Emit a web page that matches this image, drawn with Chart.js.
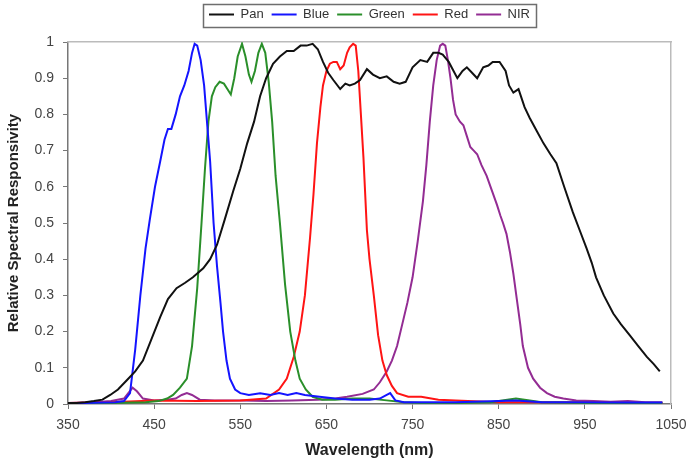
<!DOCTYPE html>
<html>
<head>
<meta charset="utf-8">
<script src="https://cdn.jsdelivr.net/npm/chart.js@4.4.1/dist/chart.umd.min.js"></script>
<style>
html,body{margin:0;padding:0;background:#fff;}
#wrap{width:689px;height:460px;}
</style>
</head>
<body>
<div id="wrap"><canvas id="c" width="689" height="460"></canvas></div>
<script>
// ---- Data ----
const seriesNames = ["Pan", "Blue", "Green", "Red", "NIR"];
const xTickValues = [350, 450, 550, 650, 750, 850, 950, 1050];
const yTickValues = [0, 0.1, 0.2, 0.3, 0.4, 0.5, 0.6, 0.7, 0.8, 0.9, 1];

const panWl = [350,360,370,380,390,399,408,418,428,437,447,457,466,476,486,495,507,515,523,532,542,550,558,566,573,580,588,596,604,612,620,627,634,640,646,652,658,666,672,677,683,689,697,704,712,720,728,735,742,750,759,767,774,780,785,792,802,808,813,819,825,832,838,843,851,858,862,867,873,880,886,894,902,910,917,926,936,944,952,958,963,972,983,992,1002,1012,1022,1030,1037];
const panVal = [0.003,0.003,0.005,0.008,0.012,0.025,0.04,0.065,0.09,0.12,0.18,0.24,0.29,0.32,0.335,0.35,0.375,0.40,0.44,0.51,0.59,0.65,0.72,0.78,0.85,0.90,0.94,0.96,0.975,0.975,0.99,0.99,0.995,0.98,0.945,0.915,0.895,0.87,0.885,0.88,0.885,0.895,0.925,0.91,0.90,0.905,0.89,0.885,0.89,0.93,0.95,0.945,0.97,0.97,0.965,0.945,0.90,0.92,0.93,0.915,0.90,0.93,0.935,0.945,0.945,0.92,0.88,0.86,0.87,0.82,0.79,0.755,0.72,0.69,0.665,0.60,0.53,0.48,0.43,0.39,0.35,0.30,0.25,0.22,0.19,0.16,0.13,0.11,0.09];

const blueWl = [350,370,390,405,415,422,428,434,440,445,451,457,462,466,470,475,480,485,490,494,497,500,504,508,512,515,519,523,527,530,534,538,544,550,560,573,585,595,605,615,625,642,660,680,700,712,720,724,730,740,760,800,850,870,900,950,1000,1040];
const blueVal = [0.003,0.003,0.004,0.005,0.008,0.03,0.15,0.30,0.43,0.51,0.60,0.67,0.73,0.76,0.76,0.80,0.85,0.88,0.92,0.97,0.995,0.99,0.95,0.88,0.76,0.67,0.50,0.38,0.28,0.20,0.12,0.07,0.04,0.03,0.025,0.03,0.025,0.03,0.025,0.03,0.025,0.02,0.015,0.012,0.012,0.015,0.025,0.03,0.01,0.005,0.005,0.005,0.008,0.01,0.005,0.005,0.004,0.004];

const greenWl = [350,400,440,455,465,472,480,488,494,500,505,509,513,517,521,526,531,535,539,543,547,552,556,560,563,567,571,575,579,583,587,591,596,602,608,614,619,626,634,645,660,680,700,720,740,760,800,840,860,870,880,900,950,1000,1040];
const greenVal = [0.002,0.003,0.005,0.008,0.015,0.025,0.045,0.07,0.16,0.32,0.50,0.65,0.78,0.85,0.875,0.89,0.885,0.87,0.855,0.90,0.96,0.995,0.96,0.91,0.89,0.92,0.97,0.995,0.97,0.89,0.78,0.63,0.50,0.33,0.20,0.12,0.07,0.04,0.02,0.012,0.012,0.015,0.015,0.01,0.005,0.003,0.003,0.005,0.012,0.015,0.012,0.005,0.003,0.003,0.003];

const redWl = [350,400,450,500,550,580,595,604,612,619,625,631,635,639,643,646,650,654,658,662,666,670,674,677,681,684,687,690,693,697,700,705,710,715,720,726,732,745,760,780,800,850,900,950,1000,1040];
const redVal = [0.003,0.005,0.01,0.008,0.01,0.015,0.04,0.07,0.13,0.20,0.30,0.46,0.58,0.72,0.82,0.88,0.92,0.94,0.945,0.945,0.925,0.935,0.97,0.985,0.995,0.99,0.92,0.80,0.68,0.48,0.40,0.30,0.19,0.12,0.08,0.05,0.03,0.02,0.02,0.012,0.01,0.005,0.005,0.005,0.003,0.003];

const nirWl = [350,380,400,415,420,425,430,437,450,465,475,482,488,494,503,520,550,580,610,640,660,674,692,705,712,720,726,732,738,744,750,756,762,766,770,774,778,782,785,788,791,794,797,800,805,809,813,817,821,825,830,836,842,848,852,855,859,863,867,871,875,878,884,890,898,906,915,925,940,960,980,1000,1020,1040];
const nirVal = [0.003,0.005,0.008,0.015,0.03,0.045,0.035,0.015,0.01,0.012,0.015,0.025,0.03,0.025,0.012,0.01,0.01,0.008,0.01,0.012,0.015,0.02,0.028,0.04,0.06,0.09,0.12,0.16,0.22,0.28,0.35,0.45,0.56,0.66,0.78,0.88,0.95,0.99,0.995,0.99,0.95,0.90,0.84,0.80,0.78,0.77,0.74,0.71,0.70,0.69,0.66,0.63,0.59,0.55,0.52,0.50,0.47,0.42,0.36,0.29,0.22,0.16,0.10,0.07,0.045,0.03,0.02,0.015,0.01,0.008,0.006,0.008,0.005,0.005];

const seriesColors = ["#111111", "#1414ff", "#2a8f2a", "#ff1414", "#932c93"];

// ---- Build chart ----
function pts(xs, ys) { return xs.map((x, i) => ({x: x, y: ys[i]})); }
const wls = [panWl, blueWl, greenWl, redWl, nirWl];
const vals = [panVal, blueVal, greenVal, redVal, nirVal];

const FONT = "'Liberation Sans', Arial, sans-serif";

const legendBorder = {
  id: 'legendBorder',
  afterDraw(chart) {
    const lg = chart.legend;
    if (!lg || !lg.legendHitBoxes || !lg.legendHitBoxes.length) return;
    const hb = lg.legendHitBoxes;
    let l = Infinity, r = -Infinity;
    hb.forEach(h => { l = Math.min(l, h.left); r = Math.max(r, h.left + h.width); });
    const ctx = chart.ctx;
    ctx.save();
    ctx.strokeStyle = '#6e6e6e';
    ctx.lineWidth = 1.5;
    ctx.strokeRect(Math.round(l - 6) + 0.5, 4.5, Math.round(r - l + 12), 23);
    ctx.restore();
  }
};

new Chart(document.getElementById('c'), {
  type: 'line',
  data: {
    datasets: seriesNames.map((n, i) => ({
      label: n,
      data: pts(wls[i], vals[i]),
      borderColor: seriesColors[i],
      backgroundColor: seriesColors[i],
      borderWidth: 2,
      pointRadius: 0,
      tension: 0,
      fill: false
    }))
  },
  options: {
    responsive: false,
    animation: false,
    devicePixelRatio: 1,
    layout: { padding: { left: 0, right: 0, top: 0, bottom: 0 } },
    plugins: {
      legend: {
        position: 'top',
        fullSize: false,
        labels: {
          usePointStyle: true,
          pointStyle: 'line',
          pointStyleWidth: 25,
          padding: 8,
          color: '#333',
          font: { family: FONT, size: 13 }
        }
      },
      tooltip: { enabled: false }
    },
    scales: {
      x: {
        type: 'linear',
        position: 'bottom',
        min: 350, max: 1050,
        afterBuildTicks: s => { s.ticks = xTickValues.map(v => ({value: v})); },
        afterFit: s => { s.height = 56; s.paddingLeft = 0; s.paddingRight = 0; },
        grid: { display: true, drawOnChartArea: false, drawTicks: true, tickLength: 5, color: '#777' },
        border: { display: true, color: '#777', width: 1.5 },
        ticks: { color: '#444', padding: 8, font: { family: FONT, size: 14 }, maxRotation: 0, autoSkip: false, callback: v => String(v) },
        title: { display: true, text: 'Wavelength (nm)', color: '#222', font: { family: FONT, size: 16, weight: 'bold' }, padding: { top: 2, bottom: 0 } }
      },
      y: {
        type: 'linear',
        position: 'left',
        min: 0, max: 1,
        afterBuildTicks: s => { s.ticks = yTickValues.map(v => ({value: v})); },
        afterFit: s => { s.width = 68; },
        grid: { display: true, drawOnChartArea: false, drawTicks: true, tickLength: 5, color: '#777' },
        border: { display: true, color: '#777', width: 1.5 },
        ticks: { color: '#444', padding: 9, font: { family: FONT, size: 14 }, callback: v => String(+v.toFixed(1)) },
        title: { display: true, text: 'Relative Spectral Responsivity', color: '#222', font: { family: FONT, size: 15, weight: 'bold' }, padding: { top: 5, bottom: 0 } }
      },
      x2: {
        type: 'linear',
        position: 'top',
        min: 350, max: 1050,
        afterFit: s => { s.height = 11; },
        grid: { display: true, drawOnChartArea: false, drawTicks: false, color: 'rgba(0,0,0,0)' },
        border: { display: true, color: '#bbbbbb', width: 1.5 },
        ticks: { display: false }
      },
      y2: {
        type: 'linear',
        position: 'right',
        min: 0, max: 1,
        afterFit: s => { s.width = 18; },
        grid: { display: true, drawOnChartArea: false, drawTicks: false, color: 'rgba(0,0,0,0)' },
        border: { display: true, color: '#bbbbbb', width: 1.5 },
        ticks: { display: false }
      }
    }
  },
  plugins: [legendBorder]
});
</script>
</body>
</html>
